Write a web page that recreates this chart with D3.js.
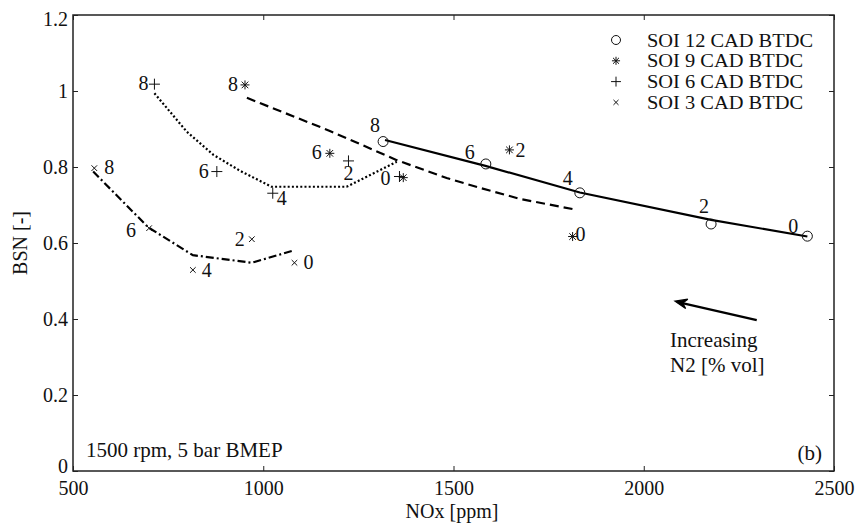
<!DOCTYPE html>
<html>
<head>
<meta charset="utf-8">
<script src="https://cdn.jsdelivr.net/npm/d3@7"></script>
<style>
html,body{margin:0;padding:0;background:#fff;}
svg text{font-family:"Liberation Serif","Times New Roman",serif;fill:#111;}
</style>
</head>
<body>
<svg id="chart" width="858" height="527"></svg>
<script>
// ---- data ----
const xTicks = [500, 1000, 1500, 2000, 2500];
const yTicks = [0, 0.2, 0.4, 0.6, 0.8, 1, 1.2];

const seriesNames = ["SOI 12 CAD BTDC", "SOI 9 CAD BTDC", "SOI 6 CAD BTDC", "SOI 3 CAD BTDC"];

// N2 dilution labels [% vol]
const soi12N2 = ["8", "6", "4", "2", "0"];
const soi9N2  = ["8", "6", "", "2", "0"];
const soi6N2  = ["8", "6", "4", "2", "0"];
const soi3N2  = ["8", "6", "4", "2", "0"];

// measured points
const soi12NOx = [1315, 1585, 1832, 2177, 2430];
const soi12BSN = [0.867, 0.808, 0.732, 0.650, 0.618];
const soi9NOx  = [952, 1175, 1368, 1647, 1813];
const soi9BSN  = [1.016, 0.836, 0.772, 0.845, 0.617];
const soi6NOx  = [714, 878, 1025, 1224, 1358];
const soi6BSN  = [1.018, 0.788, 0.731, 0.816, 0.775];
const soi3NOx  = [556, 700, 815, 970, 1082];
const soi3BSN  = [0.797, 0.639, 0.529, 0.610, 0.548];

// trend curves
const fit12NOx = [1320, 1584, 1832, 2177, 2430];
const fit12BSN = [0.871, 0.803, 0.733, 0.661, 0.617];
const fit9NOx  = [957, 1175, 1351, 1482, 1570, 1675, 1815];
const fit9BSN  = [0.982, 0.895, 0.818, 0.771, 0.745, 0.716, 0.689];
const fit6NOx  = [714, 799, 869, 939, 1022, 1219, 1351];
const fit6BSN  = [0.994, 0.893, 0.832, 0.790, 0.748, 0.748, 0.814];
const fit3NOx  = [553, 698, 815, 970, 1079];
const fit3BSN  = [0.788, 0.641, 0.568, 0.548, 0.580];

// arrow (data coords)
const arrowNOx = [2297, 2082];
const arrowBSN = [0.397, 0.447];

// ---- layout ----
const W = 858, H = 527;
const L = 73, R = 834, T = 15, B = 471;
const FS = 21;

const svg = d3.select("#chart");
const x = d3.scaleLinear().domain([500, 2500]).range([L, R]);
const y = d3.scaleLinear().domain([0, 1.2]).range([B, T]);

// label offsets (pixels) per point, [dx, dy-baseline]
const lab12 = [[-8,-10],[-16,-5],[-12,-8],[-7,-11],[-14,-3]];
const lab9  = [[-12,6],[-13,6],[0,0],[11,7],[8,4]];
const lab6  = [[-11,6],[-13,6],[9,12],[0,19],[-14,8]];
const lab3  = [[15,6],[-18,9],[14,7],[-12,7],[14,6]];

const series = [
  {nox: soi12NOx, bsn: soi12BSN, lab: soi12N2, off: lab12, marker: "o",
   fx: fit12NOx, fy: fit12BSN, dash: null},
  {nox: soi9NOx, bsn: soi9BSN, lab: soi9N2, off: lab9, marker: "*",
   fx: fit9NOx, fy: fit9BSN, dash: "9,5"},
  {nox: soi6NOx, bsn: soi6BSN, lab: soi6N2, off: lab6, marker: "+",
   fx: fit6NOx, fy: fit6BSN, dash: "2,2.2"},
  {nox: soi3NOx, bsn: soi3BSN, lab: soi3N2, off: lab3, marker: "x",
   fx: fit3NOx, fy: fit3BSN, dash: "8,3,2,3"}
];

// frame
const g = svg.append("g");
g.append("rect").attr("x", L).attr("y", T).attr("width", R - L).attr("height", B - T)
  .attr("fill", "none").attr("stroke", "#222").attr("stroke-width", 1.5);

// axes
const xb = g.append("g").attr("transform", `translate(0,${B})`)
  .call(d3.axisBottom(x).tickValues(xTicks).tickSizeInner(-5).tickSizeOuter(0).tickPadding(10).tickFormat(d3.format("d")));
const xt = g.append("g").attr("transform", `translate(0,${T})`)
  .call(d3.axisTop(x).tickValues(xTicks).tickSizeInner(-5).tickSizeOuter(0).tickFormat(""));
const yl = g.append("g").attr("transform", `translate(${L},0)`)
  .call(d3.axisLeft(y).tickValues(yTicks).tickSizeInner(-5).tickSizeOuter(0).tickPadding(5).tickFormat(d => String(d)));
const yr = g.append("g").attr("transform", `translate(${R},0)`)
  .call(d3.axisRight(y).tickValues(yTicks).tickSizeInner(-5).tickSizeOuter(0).tickFormat(""));
[xb, xt, yl, yr].forEach(a => {
  a.select(".domain").remove();
  a.selectAll(".tick line").attr("stroke", "#222").attr("stroke-width", 1);
  a.selectAll("text").attr("font-family", "Liberation Serif").attr("font-size", 20).attr("fill", "#111");
});
// corner labels nudged as in the original
yl.selectAll(".tick text").filter(d => d === 0).attr("y", -5);
yl.selectAll(".tick text").filter(d => d === 1.2).attr("y", 4);

// axis titles
svg.append("text").attr("x", 452).attr("y", 518).attr("text-anchor", "middle")
  .attr("font-size", 20).text("NOx [ppm]");
svg.append("text").attr("transform", `translate(27,${(T + B) / 2}) rotate(-90)`)
  .attr("text-anchor", "middle").attr("font-size", 20).text("BSN [-]");

// curves
const line = d3.line().x(d => x(d[0])).y(d => y(d[1]));
series.forEach(s => {
  const pts = s.fx.map((v, i) => [v, s.fy[i]]);
  g.append("path").attr("d", line(pts)).attr("fill", "none").attr("stroke", "#000")
    .attr("stroke-width", 2.2).attr("stroke-dasharray", s.dash);
});

// markers
function drawMarker(sel, type, cx, cy, scale) {
  const k = scale || 1;
  if (type === "o") {
    sel.append("circle").attr("cx", cx).attr("cy", cy).attr("r", 5 * k)
      .attr("fill", "none").attr("stroke", "#111").attr("stroke-width", 1);
  } else if (type === "+") {
    const s = 5.5 * k;
    sel.append("path").attr("d", `M${cx - s},${cy}H${cx + s}M${cx},${cy - s}V${cy + s}`)
      .attr("stroke", "#111").attr("stroke-width", 1);
  } else if (type === "x") {
    const s = 2.8 * k;
    sel.append("path").attr("d", `M${cx - s},${cy - s}L${cx + s},${cy + s}M${cx - s},${cy + s}L${cx + s},${cy - s}`)
      .attr("stroke", "#111").attr("stroke-width", 1);
  } else if (type === "*") {
    const s = 4.5 * k, d = 3.3 * k;
    sel.append("path").attr("d",
      `M${cx - s},${cy}H${cx + s}M${cx},${cy - s}V${cy + s}M${cx - d},${cy - d}L${cx + d},${cy + d}M${cx - d},${cy + d}L${cx + d},${cy - d}`)
      .attr("stroke", "#111").attr("stroke-width", 1);
  }
}
series.forEach(s => {
  s.nox.forEach((v, i) => {
    const cx = x(v), cy = y(s.bsn[i]);
    drawMarker(g, s.marker, cx, cy);
    if (s.lab[i] !== "") {
      g.append("text").attr("x", cx + s.off[i][0]).attr("y", cy + s.off[i][1])
        .attr("text-anchor", "middle").attr("font-size", 20).text(s.lab[i]);
    }
  });
});

// legend
const legY = [40, 60.8, 81.6, 102.4];
series.forEach((s, i) => {
  drawMarker(svg, s.marker, 616, legY[i], 0.9);
  svg.append("text").attr("x", 647).attr("y", legY[i] + 6.5).attr("font-size", 18)
    .attr("textLength", i === 0 ? 166 : 156).attr("lengthAdjust", "spacingAndGlyphs")
    .text(seriesNames[i]);
});

// annotations
svg.append("text").attr("x", 86).attr("y", 457).attr("font-size", FS).text("1500 rpm, 5 bar BMEP");
svg.append("text").attr("x", 822).attr("y", 460).attr("text-anchor", "end").attr("font-size", FS).text("(b)");
svg.append("text").attr("x", 670).attr("y", 347).attr("font-size", FS).text("Increasing");
svg.append("text").attr("x", 670).attr("y", 372).attr("font-size", FS).text("N2 [% vol]");

// arrow
const ax0 = x(arrowNOx[0]), ay0 = y(arrowBSN[0]), ax1 = x(arrowNOx[1]), ay1 = y(arrowBSN[1]);
g.append("line").attr("x1", ax0).attr("y1", ay0).attr("x2", ax1 + 3).attr("y2", ay1 + 1)
  .attr("stroke", "#000").attr("stroke-width", 2.2);
const ang = Math.atan2(ay0 - ay1, ax0 - ax1);
const hl = 13, hw = 0.38;
const p1 = [ax1 + hl * Math.cos(ang - hw), ay1 + hl * Math.sin(ang - hw)];
const p2 = [ax1 + hl * Math.cos(ang + hw), ay1 + hl * Math.sin(ang + hw)];
const pm = [ax1 + 8 * Math.cos(ang), ay1 + 8 * Math.sin(ang)];
g.append("path").attr("d", `M${p1[0]},${p1[1]}L${ax1},${ay1}L${p2[0]},${p2[1]}L${pm[0]},${pm[1]}Z`)
  .attr("fill", "#000").attr("stroke", "#000").attr("stroke-width", 1.2).attr("stroke-linejoin", "miter");
</script>
</body>
</html>
